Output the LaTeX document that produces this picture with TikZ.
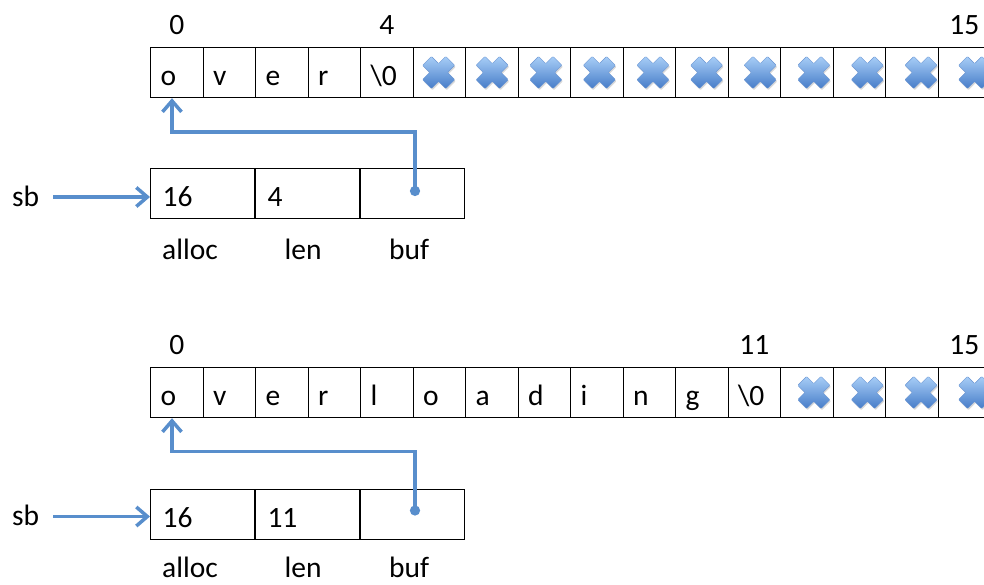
\documentclass[tikz,border=0pt]{standalone}
\usepackage{fontspec}
\setmainfont{Carlito}
\usetikzlibrary{arrows.meta,shadows}

\definecolor{ptrblue}{RGB}{88,142,204}
\definecolor{xlight}{RGB}{168,206,247}
\definecolor{xdark}{RGB}{70,124,200}

\tikzset{
  txt/.style={font=\fontsize{29.5}{31}\selectfont, inner sep=0pt},
  cell/.style={draw=black, line width=1.2pt, minimum height=50pt,
    inner xsep=10pt, inner ysep=0pt, text width=32.5pt, align=left,
    text height=26pt, text depth=0pt, anchor=north west,
    font=\fontsize{29.5}{31}\selectfont},
  field/.style={cell, inner xsep=12pt, text width=79.7pt},
  idx/.style={txt, anchor=base},
  lbl/.style={txt, anchor=base west},
  ptr/.style={draw=ptrblue, line width=3.5pt,
    -{Straight Barb[length=11pt,width=19pt]}},
  deref/.style={draw=ptrblue, line width=3.5pt,
    {Circle[length=10pt]}-{Straight Barb[length=11pt,width=19pt]}},
  % unused slot marker: a shaded blue X
  pics/unused/.style={code={
    \shade[top color=xlight, bottom color=xdark, draw=xdark!80, line width=0.4pt,
      rounded corners=0.8pt,
      drop shadow={shadow xshift=1pt, shadow yshift=-1.5pt, opacity=0.3}]
      (-7.2,16.1) -- (0,8.9) -- (7.2,16.1) -- (16.1,7.2) -- (8.9,0)
      -- (16.1,-7.2) -- (7.2,-16.1) -- (0,-8.9) -- (-7.2,-16.1)
      -- (-16.1,-7.2) -- (-8.9,0) -- (-16.1,7.2) -- cycle;
  }}
}

\begin{document}
\begin{tikzpicture}[x=1pt, y=-1pt]
  \useasboundingbox (0,0) rectangle (984,584);

  % ---------- first buffer: "over" ----------
  \foreach \c [count=\i from 0] in {o,v,e,r,\textbackslash 0,,,,,,,,,,,} {
    \node[cell] (t\i) at (150+52.5*\i, 47) {\c};
  }
  \foreach \k in {5,...,15} {
    \pic at (438.6+53.6*\k-268, 72.5) {unused};
  }
  \node[idx] (ti0)  at ([yshift=13pt]t0.north)  {0};
  \node[idx] (ti4)  at ([yshift=13pt]t4.north)  {4};
  \node[idx] (ti15) at ([yshift=13pt]t15.north) {15};

  % strbuf struct
  \node[field] (sa1) at (150,168) {16};
  \node[field] (sa2) at (sa1.north east) {4};
  \node[field] (sa3) at (sa2.north east) {};
  \node[lbl] (la1) at (162,259)   {alloc};
  \node[lbl] (la2) at (284.5,259) {len};
  \node[lbl] (la3) at (389,259)   {buf};

  \node[lbl] (sb1) at (12,206) {sb};
  \coordinate (sbtail1) at (53,197);
  \draw[ptr] (sbtail1) -- (sbtail1 -| sa1.west);

  \coordinate (buf1) at (415,196);
  \coordinate (bend1) at (172,132);
  \draw[deref] (buf1) |- (bend1) -- (bend1 |- t0.south);

  % ---------- second buffer: "overloading" ----------
  \foreach \c [count=\i from 0] in {o,v,e,r,l,o,a,d,i,n,g,\textbackslash 0,,,,} {
    \node[cell] (b\i) at (150+52.5*\i, 367) {\c};
  }
  \foreach \k in {12,...,15} {
    \pic at (438.6+53.6*\k-268, 392.5) {unused};
  }
  \node[idx] (bi0)  at ([yshift=13pt]b0.north)  {0};
  \node[idx] (bi11) at ([yshift=13pt]b11.north) {11};
  \node[idx] (bi15) at ([yshift=13pt]b15.north) {15};

  \node[field] (sc1) at (150,489) {16};
  \node[field] (sc2) at (sc1.north east) {11};
  \node[field] (sc3) at (sc2.north east) {};
  \node[lbl] (lc1) at (162,577)   {alloc};
  \node[lbl] (lc2) at (284.5,577) {len};
  \node[lbl] (lc3) at (389,577)   {buf};

  \node[lbl] (sb2) at (12,525) {sb};
  \coordinate (sbtail2) at (53,516.5);
  \draw[ptr] (sbtail2) -- (sbtail2 -| sc1.west);

  \coordinate (buf2) at (415,515.5);
  \coordinate (bend2) at (172,451.7);
  \draw[deref] (buf2) |- (bend2) -- (bend2 |- b0.south);
\end{tikzpicture}
\end{document}
